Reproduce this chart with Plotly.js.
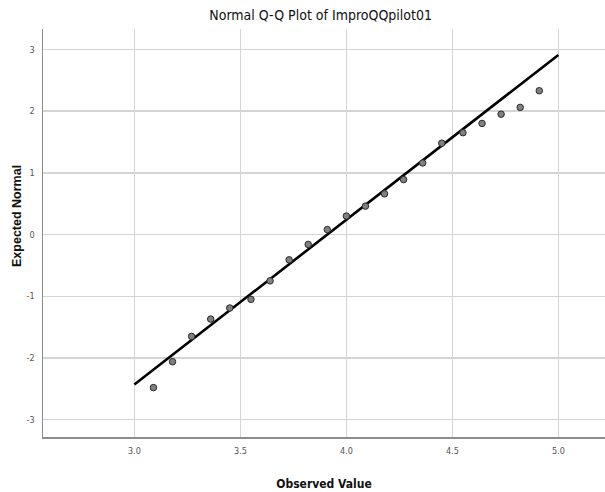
<!DOCTYPE html>
<html>
<head>
<meta charset="utf-8">
<script src="https://cdn.plot.ly/plotly-3.0.1.min.js"></script>
<style>html,body{margin:0;padding:0;background:#fff;}#chart{width:605px;height:492px;}</style>
</head>
<body>
<div id="chart"></div>
<script>
const observedValue = [3.09,3.18,3.27,3.36,3.45,3.55,3.64,3.73,3.82,3.91,4.00,4.09,4.18,4.27,4.36,4.45,4.55,4.64,4.73,4.82,4.91];
const expectedNormal = [-2.48,-2.06,-1.65,-1.37,-1.19,-1.05,-0.75,-0.41,-0.16,0.08,0.30,0.46,0.66,0.89,1.16,1.48,1.65,1.80,1.95,2.06,2.33];
const refLineX = [3.0, 5.0];
const refLineY = [-2.43, 2.91];
const xTicks = [3.0, 3.5, 4.0, 4.5, 5.0];
const xTickText = ["3.0","3.5","4.0","4.5","5.0"];
const yTicks = [-3,-2,-1,0,1,2,3];
const yTickText = ["-3","-2","-1","0","1","2","3"];

const narrow = "DejaVu Sans Condensed, Liberation Sans Narrow, Arial Narrow, Roboto, sans-serif";

const traces = [
  {x: refLineX, y: refLineY, mode: "lines", type: "scatter",
   line: {color: "#000", width: 2.6}, hoverinfo: "skip", showlegend: false},
  {x: observedValue, y: expectedNormal, mode: "markers", type: "scatter",
   marker: {size: 6.5, color: "#808080", line: {color: "#2a2a2a", width: 1}}, showlegend: false}
];

const layout = {
  width: 605, height: 492,
  margin: {l: 43, r: 0, t: 29, b: 55},
  paper_bgcolor: "#fff", plot_bgcolor: "#fff",
  showlegend: false,
  title: {text: "Normal Q-Q Plot of ImproQQpilot01", font: {family: narrow, size: 14, color: "#111"},
          xref: "container", x: 0.53, xanchor: "center", yref: "container", y: 0.97, yanchor: "middle"},
  xaxis: {
    range: [2.569, 5.22], tickvals: xTicks, ticktext: xTickText,
    showgrid: true, gridcolor: "#d4d4d4", gridwidth: 1.5,
    showline: true, linecolor: "#8c8c8c", linewidth: 1.5, zeroline: false,
    ticks: "", ticklabelstandoff: 5,
    tickfont: {family: narrow, size: 9, color: "#555"},
    title: {text: "<b>Observed Value</b>", font: {family: narrow, size: 12, color: "#111"}, standoff: 24}
  },
  yaxis: {
    range: [-3.28, 3.33], tickvals: yTicks, ticktext: yTickText,
    showgrid: true, gridcolor: "#d4d4d4", gridwidth: 1.5,
    showline: true, linecolor: "#8c8c8c", linewidth: 1.5, zeroline: false,
    ticks: "", ticklabelstandoff: 5,
    tickfont: {family: narrow, size: 9, color: "#555"}
  },
  annotations: [
    {text: "<b>Expected Normal</b>", textangle: -90, showarrow: false,
     xref: "paper", x: 0, xshift: -43 + 17, xanchor: "center",
     yref: "paper", y: (437 - 216) / 408, yanchor: "middle",
     font: {family: "Liberation Sans, Arial, sans-serif", size: 12.5, color: "#111"}}
  ]
};

Plotly.newPlot("chart", traces, layout, {displayModeBar: false, staticPlot: true});
</script>
</body>
</html>
